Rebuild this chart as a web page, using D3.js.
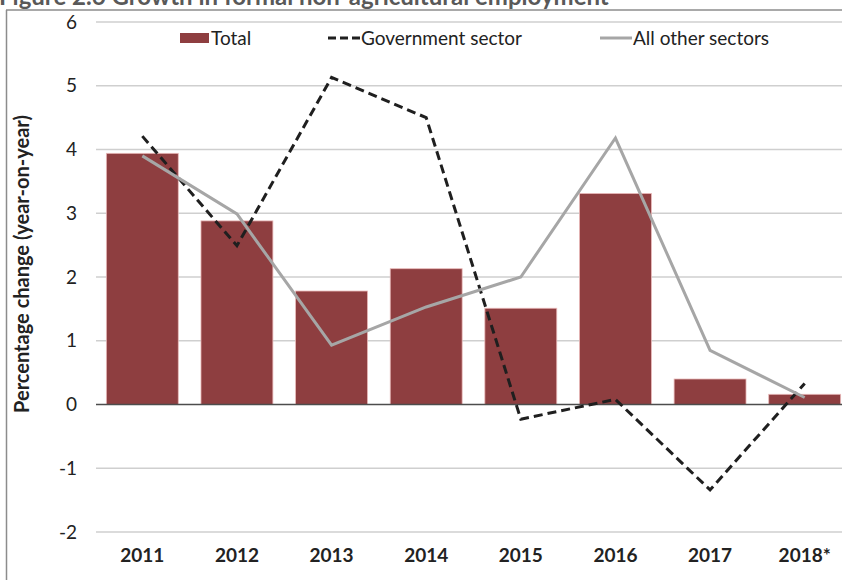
<!DOCTYPE html>
<html>
<head>
<meta charset="utf-8">
<script src="https://cdn.jsdelivr.net/npm/d3@7"></script>
<style>
  html, body { margin: 0; padding: 0; background: #fff; overflow: hidden; }
  svg { display: block; }
</style>
</head>
<body>
<svg id="chart"></svg>
<script>
const years = ["2011", "2012", "2013", "2014", "2015", "2016", "2017", "2018*"]
const total = [3.94, 2.88, 1.78, 2.13, 1.51, 3.31, 0.40, 0.16]
const government = [4.21, 2.49, 5.13, 4.50, -0.23, 0.08, -1.34, 0.33]
const otherSectors = [3.90, 2.99, 0.93, 1.53, 2.00, 4.18, 0.85, 0.11]
const yTicks = [-2, -1, 0, 1, 2, 3, 4, 5, 6]

const width = 842
const height = 580
const font = "Lato, 'Noto Sans', sans-serif"

const svg = d3.select("#chart")
  .attr("width", width)
  .attr("height", height)

// Title, cut off at the top of the picture as in the source
svg.append("text")
  .attr("x", -1)
  .attr("y", 5)
  .style("font-family", font)
  .style("font-weight", "bold")
  .style("font-size", "24px")
  .style("fill", "#595959")
  .text("Figure 2.6 Growth in formal non-agricultural employment")

// Frame
svg.append("line")
  .attr("x1", 6).attr("x2", width)
  .attr("y1", 10).attr("y2", 10)
  .style("stroke", "#8c8c8c")
  .style("stroke-width", 1.5)

svg.append("line")
  .attr("x1", 6.5).attr("x2", 6.5)
  .attr("y1", 10).attr("y2", height)
  .style("stroke", "#8c8c8c")
  .style("stroke-width", 1.5)

// Scales
const x = d3.scaleBand()
  .domain(years)
  .range([95, 852])
  .paddingInner(0.24)
  .paddingOuter(0.12)

const y = d3.scaleLinear()
  .domain([-2, 6])
  .range([532, 22])

const cx = d => x(d) + x.bandwidth() / 2

// Gridlines
svg.append("g")
  .selectAll("line")
  .data(yTicks.filter(d => d !== 0))
  .enter().append("line")
  .attr("x1", 96).attr("x2", 853)
  .attr("y1", d => y(d)).attr("y2", d => y(d))
  .style("stroke", "#cfcfcf")
  .style("stroke-width", 1.5)

// Y axis labels
const yAxis = svg.append("g")
  .attr("transform", "translate(96,0)")
  .call(d3.axisLeft(y).tickValues(yTicks).tickSize(0).tickPadding(19).tickFormat(d => String(d)))
yAxis.select(".domain").remove()
yAxis.selectAll("text")
  .style("font-family", font)
  .style("font-size", "19px")
  .style("fill", "#222")

// Bars
svg.append("g")
  .selectAll("rect")
  .data(years)
  .enter().append("rect")
  .attr("x", d => x(d))
  .attr("width", x.bandwidth())
  .attr("y", (d, i) => y(Math.max(0, total[i])))
  .attr("height", (d, i) => Math.abs(y(total[i]) - y(0)))
  .style("fill", "#8e3e40")
  .style("stroke", "#e9b9b9")
  .style("stroke-width", 0.8)

// Zero line
svg.append("line")
  .attr("x1", 96).attr("x2", 853)
  .attr("y1", y(0)).attr("y2", y(0))
  .style("stroke", "#4d4d4d")
  .style("stroke-width", 1.5)

// Lines
const line = d3.line()
  .x((d, i) => cx(years[i]))
  .y(d => y(d))

svg.append("path")
  .datum(government)
  .attr("d", line)
  .style("fill", "none")
  .style("stroke", "#1f1f1f")
  .style("stroke-width", 3)
  .style("stroke-dasharray", "9,5")

svg.append("path")
  .datum(otherSectors)
  .attr("d", line)
  .style("fill", "none")
  .style("stroke", "#a6a6a6")
  .style("stroke-width", 3)

// X axis labels
const xAxis = svg.append("g")
  .attr("transform", "translate(0,548)")
  .call(d3.axisBottom(x).tickSize(0).tickPadding(0))
xAxis.select(".domain").remove()
xAxis.selectAll("text")
  .style("font-family", font)
  .style("font-weight", "bold")
  .style("font-size", "19px")
  .style("fill", "#222")

// Y axis title
svg.append("text")
  .attr("transform", "translate(29,264) rotate(-90)")
  .attr("text-anchor", "middle")
  .style("font-family", font)
  .style("font-weight", "bold")
  .style("font-size", "20px")
  .style("fill", "#222")
  .text("Percentage change (year-on-year)")

// Legend
const legendData = [
  { label: "Total", x: 180, type: "bar" },
  { label: "Government sector", x: 328, type: "dash" },
  { label: "All other sectors", x: 600, type: "solid" }
]

const legend = svg.append("g")
  .attr("transform", "translate(0,38)")

legend.selectAll(".legend-item")
  .data(legendData)
  .enter().append("g")
  .attr("class", "legend-item")
  .attr("transform", d => `translate(${d.x},0)`)
  .each(function(d) {
    const g = d3.select(this)
    if (d.type === "bar") {
      g.append("rect")
        .attr("x", 0).attr("y", -5)
        .attr("width", 29).attr("height", 10)
        .style("fill", "#8e3e40")
    } else {
      g.append("line")
        .attr("x1", 0).attr("x2", 32)
        .attr("y1", 0).attr("y2", 0)
        .style("stroke", d.type === "dash" ? "#1f1f1f" : "#a6a6a6")
        .style("stroke-width", 3)
        .style("stroke-dasharray", d.type === "dash" ? "8,4" : "none")
    }
    g.append("text")
      .attr("x", d.type === "bar" ? 31 : 33)
      .attr("y", 0)
      .attr("dy", "0.35em")
      .style("font-family", font)
      .style("font-size", "19px")
      .style("fill", "#222")
      .text(d.label)
  })
</script>
</body>
</html>
